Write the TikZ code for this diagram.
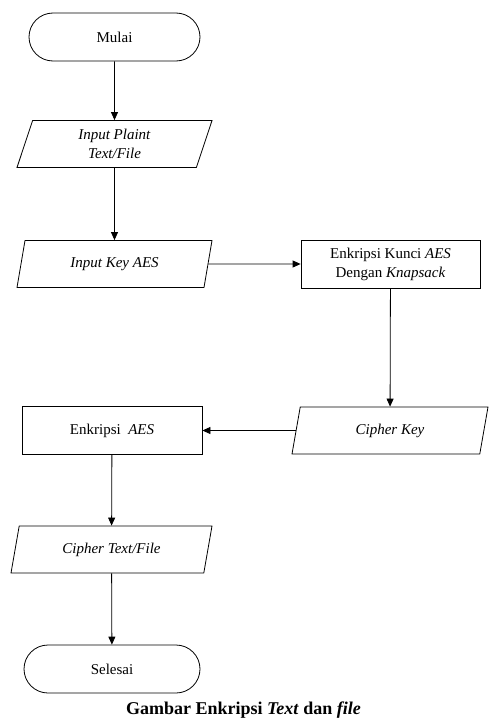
\documentclass[tikz,border=0pt]{standalone}
\usepackage{fontspec}
\setmainfont{Liberation Serif}
\usetikzlibrary{positioning,shapes.geometric,shapes.misc,arrows.meta}

\tikzset{
  terminal/.style={draw, rounded rectangle, minimum width=175pt, minimum height=48pt},
  proses/.style={draw, rectangle, minimum width=180pt, minimum height=48pt},
  data/.style={draw, trapezium, trapezium left angle=65, trapezium right angle=115,
    trapezium stretches body, minimum width=195pt, minimum height=47pt},
  panah/.style={-{Triangle[length=8pt,width=7pt]}, line width=0.8pt}
}

\begin{document}
\begin{tikzpicture}
    [x=1pt,y=-1pt,every node/.style={inner sep=2pt, align=center, line width=0.8pt, font=\fontsize{15}{19}\selectfont}]
  \useasboundingbox[fill=white] (0,0) rectangle (492,720);

  \node[terminal] (mulai) at (114.5,37) {Mulai};
  \node[data] (inplain) at (114.5,144) {\textit{Input Plaint}\\\textit{Text/File}};
  \node[data] (inkey) at (114.5,264) {\textit{Input Key AES}};
  \node[proses, minimum width=179pt] (enkkunci) at (390.5,264) {Enkripsi Kunci \textit{AES}\\Dengan \textit{Knapsack}};
  \node[data, minimum width=196pt] (cipherkey) at (390,430.5) {\textit{Cipher Key}};
  \node[proses] (enkaes) at (112,430.5) {Enkripsi~ \textit{AES}};
  \node[data, minimum width=201pt] (ciphertext) at (111.5,549.5) {\textit{Cipher Text/File}};
  \node[terminal, minimum width=180pt] (selesai) at (112,669) {Selesai};

  \foreach \from/\to in {mulai/inplain, inplain/inkey, inkey/enkkunci, enkkunci/cipherkey,
                         cipherkey/enkaes, enkaes/ciphertext, ciphertext/selesai}
    \draw (\from) edge[panah] (\to);

  \node[anchor=base, inner sep=0pt, font=\fontsize{18}{20}\selectfont\bfseries] (judul) at (243.5,714.5)
    {Gambar Enkripsi \textit{Text} dan \textit{file}};
\end{tikzpicture}
\end{document}
